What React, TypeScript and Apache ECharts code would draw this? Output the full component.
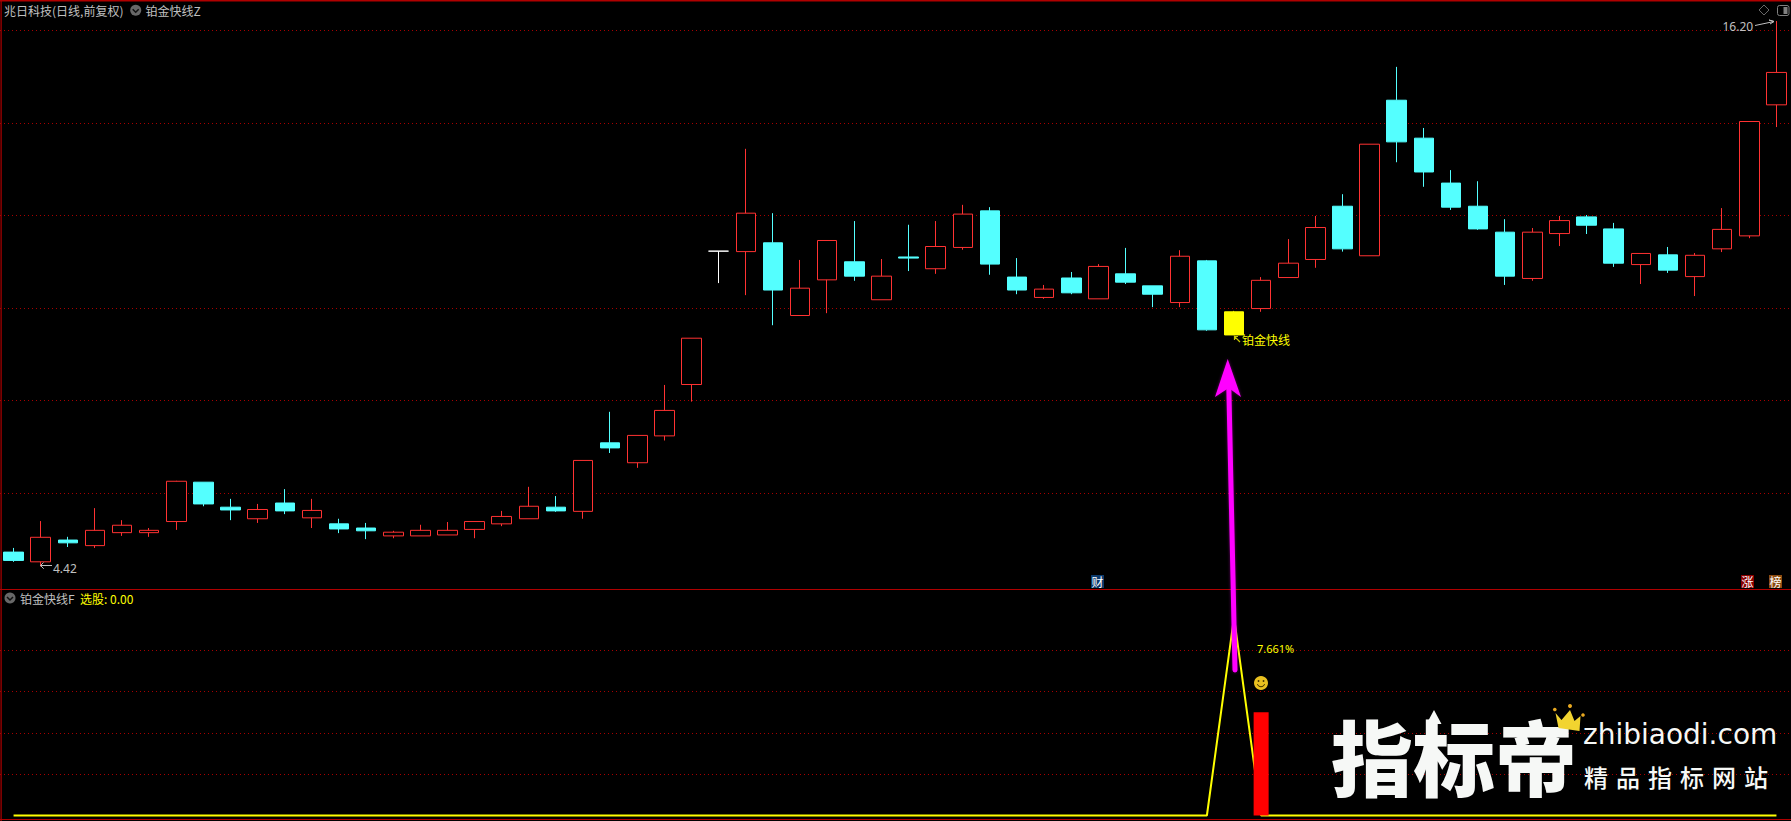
import React, { useEffect, useRef } from "react";
import * as echarts from "echarts";

const RED = "#ff3232";
const CYAN = "#54ffff";
const GRID_RED = "#a80000";
const BORDER_RED = "#b00000";
const YELLOW = "#ffff00";
const GREY = "#c0c0c0";
const CJK = '"Noto Sans CJK SC", "Noto Sans", sans-serif';

const categories: string[] = [];
const opens = [
  4.73, 4.52, 4.99, 4.87, 5.15, 5.15, 5.39, 6.24, 5.7, 5.45, 5.79,
  5.47, 5.34, 5.25, 5.08, 5.08, 5.1, 5.22, 5.34, 5.45, 5.7, 5.61,
  7.09, 6.66, 7.24, 8.35, 11.23, 11.22, 11.41, 9.84, 10.61, 11.0,
  10.18, 11.104, 10.85, 11.31, 12.1, 10.67, 10.23, 10.65, 10.2, 10.74,
  10.48, 10.12, 11.02, 9.42, 9.99, 10.66, 11.05, 12.2, 11.13, 14.49,
  13.67, 12.7, 12.2, 11.64, 10.64, 11.61, 11.97, 11.71, 10.94, 11.15,
  10.68, 11.28, 11.56, 14.39,
];
const closes = [
  4.55, 5.05, 4.93, 5.2, 5.31, 5.2, 6.26, 5.77, 5.64, 5.65, 5.62,
  5.63, 5.23, 5.19, 5.16, 5.2, 5.2, 5.39, 5.5, 5.72, 5.62, 6.71,
  6.98, 7.25, 7.79, 9.35, 11.23, 12.05, 10.39, 10.43, 11.46, 10.69,
  10.69, 11.08, 11.33, 12.03, 10.95, 10.39, 10.41, 10.33, 10.9, 10.56,
  10.3, 11.12, 9.53, 9.92, 10.6, 10.97, 11.74, 11.28, 13.54, 13.59,
  12.94, 12.18, 11.71, 10.69, 11.64, 11.89, 11.79, 10.97, 11.18, 10.82,
  11.14, 11.7, 14.03, 15.09,
];
const lows = [
  4.52, 4.42, 4.84, 4.82, 5.08, 5.06, 5.21, 5.72, 5.42, 5.36, 5.55,
  5.25, 5.14, 5.01, 5.03, 5.08, 5.1, 5.03, 5.29, 5.45, 5.6, 5.45,
  6.87, 6.55, 7.14, 7.98, 10.54, 10.28, 9.63, 9.84, 9.89, 10.59,
  10.18, 10.8, 10.74, 11.26, 10.72, 10.3, 10.2, 10.3, 10.2, 10.52,
  10.02, 10.02, 9.51, 9.42, 9.92, 10.66, 10.87, 11.22, 11.13, 13.15,
  12.62, 12.12, 11.69, 10.5, 10.59, 11.34, 11.6, 10.89, 10.52, 10.76,
  10.26, 11.21, 11.51, 13.91,
];
const highs = [
  4.82, 5.4, 5.06, 5.68, 5.42, 5.25, 6.27, 6.24, 5.88, 5.77, 6.09,
  5.88, 5.45, 5.36, 5.19, 5.32, 5.38, 5.39, 5.62, 6.14, 5.94, 6.71,
  7.76, 7.25, 8.34, 9.35, 11.23, 13.44, 12.05, 11.04, 11.46, 11.88,
  11.06, 11.8, 11.88, 12.23, 12.18, 11.08, 10.5, 10.78, 10.95, 11.3,
  10.48, 11.25, 11.04, 9.94, 10.67, 11.49, 11.99, 12.46, 13.54, 15.21,
  13.89, 12.98, 12.74, 11.92, 11.73, 11.99, 12.01, 11.84, 11.18, 11.32,
  11.19, 12.16, 14.03, 16.2,
];
opens.forEach((_, i) => categories.push(String(i + 1)));

const signalIndex = 45;
const dojiIndex = 26;
const priceGrid = [16, 14, 12, 10, 8, 6];
const indicatorGrid = [20, 40, 60, 80];
const signalLine = [
  0, 0, 0, 0, 0, 0, 0, 0, 0, 0, 0, 0, 0, 0, 0, 0, 0, 0, 0, 0, 0, 0,
  0, 0, 0, 0, 0, 0, 0, 0, 0, 0, 0, 0, 0, 0, 0, 0, 0, 0, 0, 0, 0, 0,
  0, 96, 0, 0, 0, 0, 0, 0, 0, 0, 0, 0, 0, 0, 0, 0, 0, 0, 0, 0, 0, 0,
];
const signalBarIndex = 46;
const signalBarValue = 50;

const txt = (text: string, x: number, y: number, fill: string, font: string, extra: any = {}) => ({
  type: "text",
  x,
  y,
  silent: true,
  z: 20,
  style: { text, fill, font, align: "left", verticalAlign: "middle", textAlign: "left", textVerticalAlign: "middle", ...extra },
});
const badge = (label: string, x: number, y: number, w: number, h: number, bg: string) => [
  { type: "rect", z: 20, silent: true, shape: { x, y, width: w, height: h }, style: { fill: bg } },
  txt(label, x + 0.5, y + h / 2, "#ffffff", `12px ${CJK}`),
];
const chevronIcon = (cx: number, cy: number) => [
  { type: "circle", z: 20, silent: true, shape: { cx, cy, r: 5.5 }, style: { fill: "#686868" } },
  {
    type: "polyline",
    z: 21,
    silent: true,
    shape: { points: [[cx - 3, cy - 1], [cx, cy + 2], [cx + 3, cy - 1]] },
    style: { stroke: "#111111", lineWidth: 1.5, fill: "none" },
  },
];
const frameLine = (x1: number, y1: number, x2: number, y2: number) => ({
  type: "line",
  z: 19,
  silent: true,
  shape: { x1, y1, x2, y2 },
  style: { stroke: BORDER_RED, lineWidth: 1 },
});

function buildGraphics() {
  const g: any[] = [
    { type: "rect", z: 19, silent: true, shape: { x: 0, y: 0, width: 1791, height: 1.5 }, style: { fill: BORDER_RED } },
    { type: "rect", z: 19, silent: true, shape: { x: 0.5, y: 0, width: 1.2, height: 821 }, style: { fill: BORDER_RED } },
    frameLine(0, 589.5, 1791, 589.5),
    frameLine(0, 819.5, 1791, 819.5),

    txt("兆日科技(日线,前复权)", 4, 10, GREY, `12px ${CJK}`),
    ...chevronIcon(135.7, 10.3),
    txt("铂金快线Z", 145.5, 10, GREY, `12px ${CJK}`),
    ...chevronIcon(10, 598),
    txt("铂金快线F", 20, 598, GREY, `12px ${CJK}`),
    txt("选股: 0.00", 80, 598, YELLOW, `12px ${CJK}`),

    // top right tools
    {
      type: "polygon",
      z: 20,
      silent: true,
      shape: { points: [[1764, 5], [1769, 10], [1764, 15], [1759, 10]] },
      style: { stroke: "#686868", fill: "none", lineWidth: 1 },
    },
    {
      type: "rect",
      z: 20,
      silent: true,
      shape: { x: 1777.5, y: 5.5, width: 11.5, height: 10, r: 2 },
      style: { stroke: "#808080", fill: "none", lineWidth: 1 },
    },
    { type: "rect", z: 20, silent: true, shape: { x: 1783.5, y: 7, width: 4, height: 7 }, style: { fill: "#808080" } },

    // extreme price labels
    txt("4.42", 53, 568, GREY, `12px "Noto Sans", sans-serif`),
    {
      type: "polyline",
      z: 20,
      silent: true,
      shape: { points: [[43.5, 562.5], [40.5, 565.5], [43.5, 568.5], [40.5, 565.5], [52, 565.5]] },
      style: { stroke: GREY, fill: "none", lineWidth: 1 },
    },
    txt("16.20", 1722.5, 26.5, GREY, `12px "Noto Sans", sans-serif`),
    {
      type: "polyline",
      z: 20,
      silent: true,
      shape: { points: [[1755, 25.5], [1774, 21.5], [1769, 20], [1774, 21.5], [1770, 24]] },
      style: { stroke: GREY, fill: "none", lineWidth: 1 },
    },

    ...badge("财", 1091, 575, 13, 13, "#0c3a6c"),
    ...badge("涨", 1741, 575, 13, 13, "#8a0000"),
    ...badge("榜", 1769, 575, 13, 13, "#8a4a10"),

    // signal annotation
    txt("铂金快线", 1242, 339, YELLOW, `12px ${CJK}`),
    {
      type: "polyline",
      z: 20,
      silent: true,
      shape: { points: [[1240, 342], [1234.5, 336.5], [1234.5, 340], [1234.5, 336.5], [1238, 336.5]] },
      style: { stroke: "#c8c800", fill: "none", lineWidth: 1.2 },
    },
    txt("7.661%", 1257, 648, YELLOW, `11px "Noto Sans", sans-serif`),

    // smiley
    { type: "circle", z: 20, silent: true, shape: { cx: 1261, cy: 683, r: 7 }, style: { fill: "#e8c020" } },
    { type: "circle", z: 21, silent: true, shape: { cx: 1258.5, cy: 681, r: 0.9 }, style: { fill: "#403000" } },
    { type: "circle", z: 21, silent: true, shape: { cx: 1263.5, cy: 681, r: 0.9 }, style: { fill: "#403000" } },
    {
      type: "arc",
      z: 21,
      silent: true,
      shape: { cx: 1261, cy: 683, r: 3.8, startAngle: 0.3, endAngle: Math.PI - 0.3 },
      style: { stroke: "#403000", fill: "none", lineWidth: 1 },
    },

    // magenta arrow
    {
      type: "line",
      z: 30,
      silent: true,
      shape: { x1: 1228.8, y1: 386, x2: 1235, y2: 670 },
      style: { stroke: "#ff00ff", lineWidth: 5, lineCap: "round", shadowBlur: 3, shadowColor: "rgba(255,0,255,0.4)" },
    },
    {
      type: "polygon",
      z: 30,
      silent: true,
      shape: { points: [[1227.7, 359], [1215, 397], [1228.7, 388], [1241, 397]] },
      style: { fill: "#ff00ff", shadowBlur: 3, shadowColor: "rgba(255,0,255,0.4)" },
    },

    // watermark
    txt("指标帝", 1331, 754, "#f6f8f6", `900 82px ${CJK}`, { shadowBlur: 6, shadowColor: "rgba(255,255,255,0.35)" }),
    {
      type: "polygon",
      z: 21,
      silent: true,
      shape: {
        points: [[1434, 710], [1441.5, 724], [1437, 724], [1437, 730], [1431, 730], [1431, 724], [1426.5, 724]],
      },
      style: { fill: "#f6f8f6" },
    },
    txt("zhibiaodi.com", 1583, 734, "#f6f8f6", `28px "DejaVu Sans", sans-serif`, { shadowBlur: 4, shadowColor: "rgba(255,255,255,0.3)" }),
    txt("精\u2004品\u2004指\u2004标\u2004网\u2004站", 1584, 776, "#f6f8f6", `500 24px ${CJK}`, { shadowBlur: 4, shadowColor: "rgba(255,255,255,0.3)" }),
    {
      type: "polygon",
      z: 22,
      silent: true,
      shape: {
        points: [[1555.5, 713], [1561.5, 720], [1570, 710], [1574.5, 721], [1580.5, 716], [1579.5, 731], [1558.5, 728]],
      },
      style: { fill: "#f2d430" },
    },
    { type: "circle", z: 22, silent: true, shape: { cx: 1554.8, cy: 709.5, r: 1.8 }, style: { fill: "#e8a820" } },
    { type: "circle", z: 22, silent: true, shape: { cx: 1570, cy: 706, r: 2 }, style: { fill: "#e8a820" } },
    { type: "circle", z: 22, silent: true, shape: { cx: 1583, cy: 715, r: 1.8 }, style: { fill: "#e8a820" } },
  ];
  return g;
}

export default function App() {
  const ref = useRef<HTMLDivElement>(null);
  useEffect(() => {
    document.body.style.margin = "0";
    document.body.style.background = "#000";
    document.body.style.overflow = "hidden";
    const chart = echarts.init(ref.current!, undefined, { renderer: "svg" });
    const candles = categories.map((_, i) => {
      const value = [opens[i], closes[i], lows[i], highs[i]];
      if (i === signalIndex) {
        return {
          value,
          itemStyle: { color: YELLOW, color0: YELLOW, borderColor: YELLOW, borderColor0: YELLOW },
        };
      }
      if (i === dojiIndex) {
        return {
          value,
          itemStyle: { borderColor: "#ffffff", borderColor0: "#ffffff", borderColorDoji: "#ffffff" },
        };
      }
      return value;
    });
    const dotted = { type: [1, 3], color: GRID_RED, width: 1 };
    chart.setOption({
      animation: false,
      backgroundColor: "#000000",
      grid: [
        { left: 0, right: 1, top: 2, height: 587 },
        { left: 0, right: 1, top: 591, height: 228 },
      ],
      xAxis: [
        { type: "category", data: categories, gridIndex: 0, show: false, boundaryGap: true },
        { type: "category", data: categories, gridIndex: 1, show: false, boundaryGap: true },
      ],
      yAxis: [
        { type: "value", gridIndex: 0, show: false, min: 3.933, max: 16.611, splitLine: { show: false } },
        { type: "value", gridIndex: 1, show: false, min: -1.7, max: 108.8, splitLine: { show: false } },
      ],
      series: [
        {
          type: "candlestick",
          xAxisIndex: 0,
          yAxisIndex: 0,
          barWidth: 20,
          z: 3,
          clip: false,
          itemStyle: { color: "#000000", color0: CYAN, borderColor: RED, borderColor0: CYAN, borderWidth: 1 },
          data: candles,
          markLine: {
            silent: true,
            z: 1,
            symbol: "none",
            label: { show: false },
            lineStyle: dotted,
            data: priceGrid.map((v) => ({ yAxis: v })),
          },
        },
        {
          type: "line",
          xAxisIndex: 1,
          yAxisIndex: 1,
          z: 3,
          showSymbol: false,
          data: signalLine,
          lineStyle: { color: YELLOW, width: 2 },
          itemStyle: { color: YELLOW },
          markLine: {
            silent: true,
            z: 1,
            symbol: "none",
            label: { show: false },
            lineStyle: dotted,
            data: indicatorGrid.map((v) => ({ yAxis: v })),
          },
        },
        {
          type: "bar",
          xAxisIndex: 1,
          yAxisIndex: 1,
          z: 4,
          barWidth: 15,
          itemStyle: { color: "#ff0000" },
          data: categories.map((_, i) => (i === signalBarIndex ? signalBarValue : null)),
        },
      ],
      graphic: { elements: buildGraphics() },
    });
    return () => chart.dispose();
  }, []);
  return <div ref={ref} style={{ position: "absolute", left: 0, top: 0, width: 1791, height: 821 }} />;
}
